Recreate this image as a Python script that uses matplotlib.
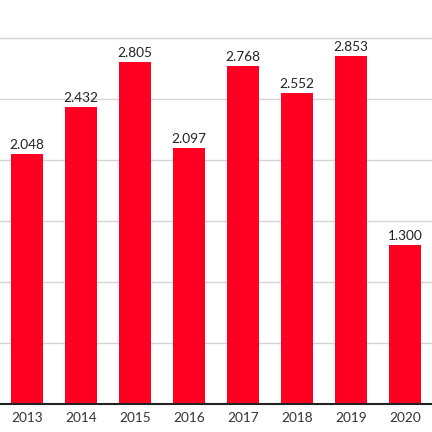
import matplotlib
matplotlib.use("Agg")
import matplotlib.pyplot as plt

years = ["2013", "2014", "2015", "2016", "2017", "2018", "2019", "2020"]
values = [2.048, 2.432, 2.805, 2.097, 2.768, 2.552, 2.853, 1.300]
labels = ["2.048", "2.432", "2.805", "2.097", "2.768", "2.552", "2.853", "1.300"]

plt.rcParams['font.family'] = ['Lato', 'DejaVu Sans']

fig = plt.figure(figsize=(4.32, 4.32), dpi=100)
ax = fig.add_axes([0, 28 / 432, 1, 404 / 432])

x = range(len(years))
ax.bar(x, values, width=0.61, color="#ff0022", zorder=2)
for i, v in enumerate(values):
    ax.text(i, v + 0.025, labels[i], ha="center", va="bottom", fontsize=9.8, color="#222222")

ax.set_xlim(-0.5, 7.5)
ax.set_ylim(0, 3.311)
ax.set_yticks([0.5, 1.0, 1.5, 2.0, 2.5, 3.0])
ax.yaxis.grid(True, color="#d4d4d4", linewidth=1, zorder=0)
ax.tick_params(axis="y", length=0, labelleft=False)
ax.set_xticks(list(x))
ax.set_xticklabels(years, fontsize=9.8, color="#333333")
ax.tick_params(axis="x", length=0, pad=5.5)
for s in ["top", "right", "left"]:
    ax.spines[s].set_visible(False)
ax.spines["bottom"].set_color("#222222")
ax.spines["bottom"].set_linewidth(1.5)
ax.spines["bottom"].set_zorder(3)

fig.savefig("out.png", dpi=100)
